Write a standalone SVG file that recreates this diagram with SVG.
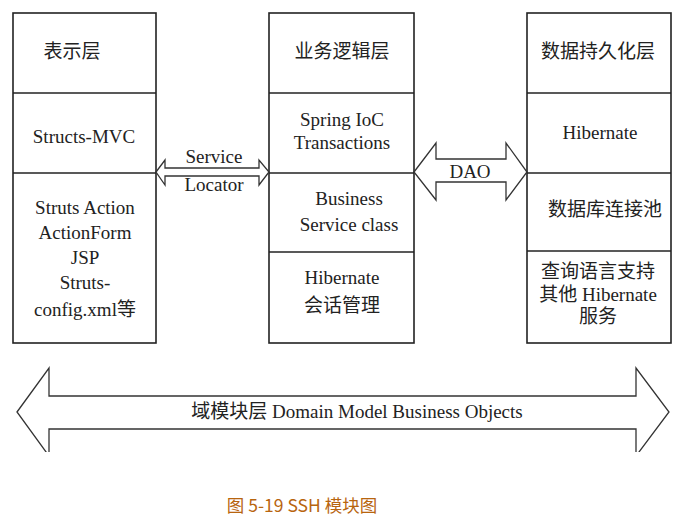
<svg xmlns="http://www.w3.org/2000/svg" width="680" height="522" viewBox="0 0 680 522">
<style>
.box{fill:#fff;stroke:#222;stroke-width:1.6}
.div{stroke:#222;stroke-width:1.6}
.arr{fill:#fff;stroke:#333;stroke-width:1.3;stroke-linejoin:miter}
.t{font-family:"Liberation Serif","Noto Sans CJK SC",serif;font-size:19px;fill:#222;text-anchor:middle}
.cap{font-family:"Noto Sans CJK SC","Noto Sans",sans-serif;font-size:17.5px;fill:#b8650f;text-anchor:middle}
</style>
<defs>
<clipPath id="clipBottom"><rect x="0" y="0" width="680" height="452"/></clipPath>
</defs>
<rect width="680" height="522" fill="#fff"/>
<g id="presentation">
<rect class="box" x="13" y="13" width="143" height="330"/>
<line class="div" x1="13" y1="93" x2="156" y2="93"/>
<line class="div" x1="13" y1="173" x2="156" y2="173"/>
<text class="t" x="72" y="58">表示层</text>
<text class="t" x="84" y="143">Structs-MVC</text>
<text class="t" x="85" y="214">Struts Action</text>
<text class="t" x="85" y="239">ActionForm</text>
<text class="t" x="85" y="264">JSP</text>
<text class="t" x="85" y="289">Struts-</text>
<text class="t" x="85" y="316">config.xml等</text>
</g>
<g id="business">
<rect class="box" x="269" y="13" width="145" height="330"/>
<line class="div" x1="269" y1="93" x2="414" y2="93"/>
<line class="div" x1="269" y1="173" x2="414" y2="173"/>
<line class="div" x1="269" y1="252" x2="414" y2="252"/>
<text class="t" x="342" y="58">业务逻辑层</text>
<text class="t" x="342" y="126">Spring IoC</text>
<text class="t" x="342" y="149">Transactions</text>
<text class="t" x="349" y="205">Business</text>
<text class="t" x="349" y="231">Service class</text>
<text class="t" x="342" y="284">Hibernate</text>
<text class="t" x="342" y="312">会话管理</text>
</g>
<g id="persistence">
<rect class="box" x="527" y="13" width="144" height="330"/>
<line class="div" x1="527" y1="93" x2="671" y2="93"/>
<line class="div" x1="527" y1="173" x2="671" y2="173"/>
<line class="div" x1="527" y1="251" x2="671" y2="251"/>
<text class="t" x="598" y="58">数据持久化层</text>
<text class="t" x="600" y="139">Hibernate</text>
<text class="t" x="605" y="216">数据库连接池</text>
<text class="t" x="598" y="278">查询语言支持</text>
<text class="t" x="598" y="301">其他 Hibernate</text>
<text class="t" x="598" y="323">服务</text>
</g>
<g id="connectors">
<polygon class="arr" points="156,172 165,160 165,168 259,168 259,160 269,172 259,185 259,176 165,176 165,185"/>
<text class="t" x="214" y="163">Service</text>
<text class="t" x="214" y="191">Locator</text>
<polygon class="arr" points="414,172 436,143 436,159 506,159 506,143 527,172 506,200 506,182 436,182 436,200"/>
<text class="t" x="470" y="178">DAO</text>
<g clip-path="url(#clipBottom)">
<polygon class="arr" points="17,412 49,368 49,396 636,396 636,368 669,412 636,456 636,429 49,429 49,456"/>
</g>
<text class="t" x="357" y="418">域模块层 Domain Model Business Objects</text>
</g>
<text class="cap" x="302" y="512">图 5-19 SSH 模块图</text>
</svg>
